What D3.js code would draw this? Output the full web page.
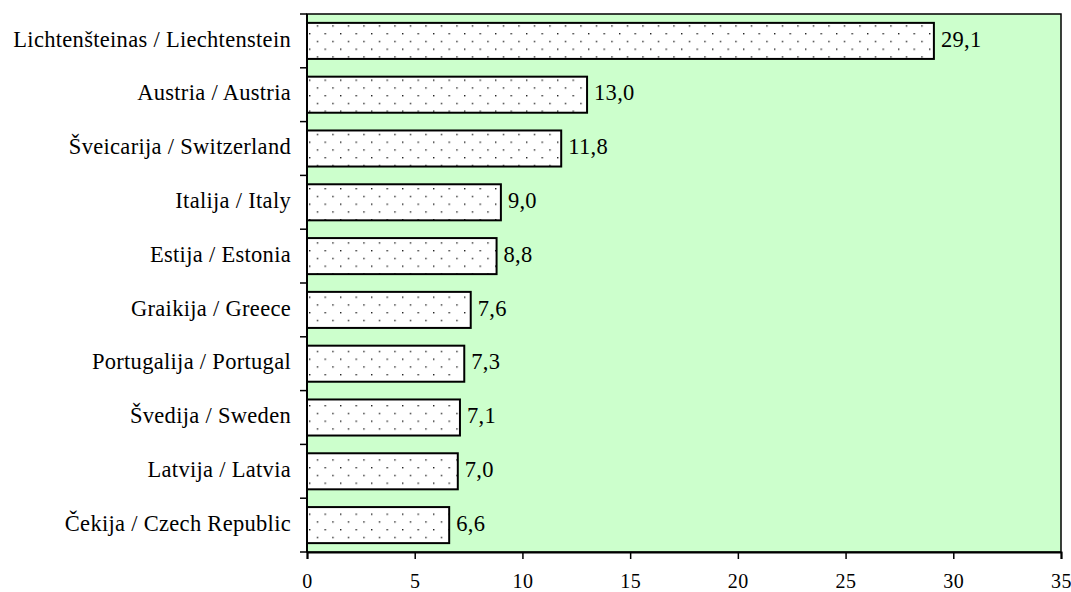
<!DOCTYPE html>
<html><head><meta charset="utf-8">
<script src="https://cdn.jsdelivr.net/npm/d3@7"></script>
<style>body{margin:0;background:#fff}</style>
</head><body>
<svg id="c" width="1071" height="592"></svg>
<script>
const categories = ["Lichtenšteinas / Liechtenstein","Austria / Austria","Šveicarija / Switzerland","Italija / Italy","Estija / Estonia","Graikija / Greece","Portugalija / Portugal","Švedija / Sweden","Latvija / Latvia","Čekija / Czech Republic"];
const values = [29.1,13.0,11.8,9.0,8.8,7.6,7.3,7.1,7.0,6.6];
const xTicks = [0,5,10,15,20,25,30,35];

const svg = d3.select("#c");
const m = {left:307, top:14, right:1061, bottom:552};
const x = d3.scaleLinear().domain([0,35]).range([m.left, m.right]);
const y = d3.scaleBand().domain(categories).range([m.top, m.bottom]).paddingInner(0.33).paddingOuter(0.165);
const font = "'Liberation Serif', 'Times New Roman', serif";
const fs = 22.5;

const defs = svg.append("defs");
const pat = defs.append("pattern").attr("id","dots").attr("patternUnits","userSpaceOnUse")
  .attr("width",15.5).attr("height",15.5).attr("x",m.left+2).attr("y",2);
pat.append("rect").attr("width",15.5).attr("height",15.5).attr("fill","#fff");
pat.append("rect").attr("x",0).attr("y",0).attr("width",1.4).attr("height",1.4).attr("fill","#222");
pat.append("rect").attr("x",7.75).attr("y",7.75).attr("width",1.4).attr("height",1.4).attr("fill","#222");

svg.append("rect").attr("x",m.left).attr("y",m.top).attr("width",m.right-m.left).attr("height",m.bottom-m.top)
  .attr("fill","#ccffcc");

svg.append("g").selectAll("rect").data(values).join("rect")
  .attr("x", x(0)).attr("y",(d,i)=>y(categories[i]))
  .attr("width", d=>x(d)-x(0)).attr("height", y.bandwidth())
  .attr("fill","url(#dots)").attr("stroke","#000").attr("stroke-width",2);

svg.append("g").selectAll("text").data(values).join("text")
  .attr("x", d=>x(d)+7).attr("y",(d,i)=>y(categories[i])+y.bandwidth()/2)
  .attr("dy","0.25em").attr("font-family",font).attr("font-size",fs).attr("letter-spacing",0.3)
  .text(d=>d.toFixed(1).replace(".",","));

svg.append("rect").attr("x",m.left).attr("y",m.top).attr("width",m.right-m.left).attr("height",m.bottom-m.top)
  .attr("fill","none").attr("stroke","#000").attr("stroke-width",1.5);

// x axis
const xa = svg.append("g").attr("transform",`translate(0,${m.bottom})`)
  .call(d3.axisBottom(x).tickValues(xTicks).tickSize(7).tickPadding(15).tickFormat(d3.format("d")));
xa.select(".domain").attr("stroke","#000").attr("stroke-width",2);
xa.selectAll(".tick line").attr("stroke","#000").attr("stroke-width",1.5);
xa.selectAll("text").attr("font-family",font).attr("font-size",20).attr("letter-spacing",0.5).attr("fill","#000");

// y axis ticks at band boundaries
const bounds = d3.range(categories.length+1).map(i=>m.top+i*(m.bottom-m.top)/categories.length);
svg.append("g").selectAll("line").data(bounds).join("line")
  .attr("x1",m.left-7).attr("x2",m.left).attr("y1",d=>d).attr("y2",d=>d)
  .attr("stroke","#000").attr("stroke-width",1.5);
svg.append("line").attr("x1",m.left).attr("x2",m.left).attr("y1",m.top).attr("y2",m.bottom)
  .attr("stroke","#000").attr("stroke-width",2);

svg.append("g").selectAll("text").data(categories).join("text")
  .attr("x", m.left-16).attr("y", d=>y(d)+y.bandwidth()/2).attr("dy","0.25em")
  .attr("text-anchor","end").attr("font-family",font).attr("font-size",fs).attr("letter-spacing",0.3).text(d=>d);
</script>
</body></html>
